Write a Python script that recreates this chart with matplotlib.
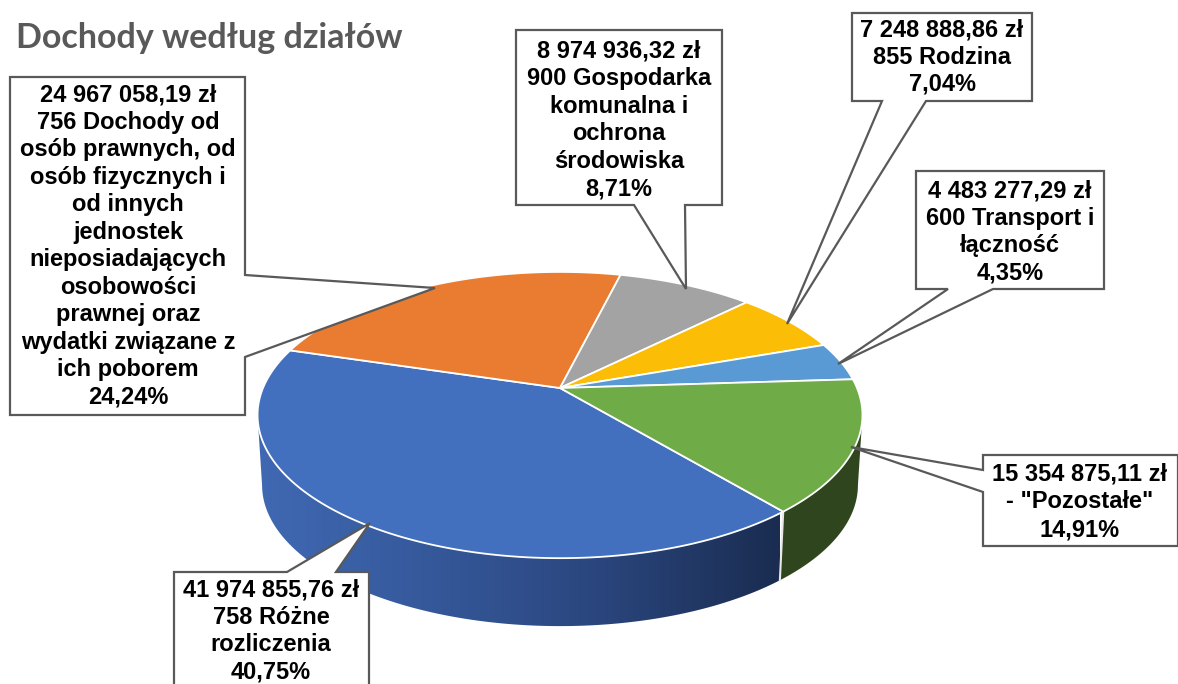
import numpy as np
import matplotlib
matplotlib.use('Agg')
import matplotlib.pyplot as plt
from matplotlib.patches import Polygon
from matplotlib.colors import LinearSegmentedColormap

# slices, clockwise from the blue/green edge
names = ['758 Różne\nrozliczenia',
         '756 Dochody od\nosób prawnych, od\nosób fizycznych i\nod innych\njednostek\nnieposiadających\nosobowości\nprawnej oraz\nwydatki związane z\nich poborem',
         '900 Gospodarka\nkomunalna i\nochrona\nśrodowiska',
         '855 Rodzina',
         '600 Transport i\nłączność',
         '- "Pozostałe"']
amounts = [41974855.76, 24967058.19, 8974936.32, 7248888.86, 4483277.29, 15354875.11]
amount_labels = ['41 974 855,76 zł', '24 967 058,19 zł', '8 974 936,32 zł',
                 '7 248 888,86 zł', '4 483 277,29 zł', '15 354 875,11 zł']
percent_labels = ['40,75%', '24,24%', '8,71%', '7,04%', '4,35%', '14,91%']
colors = ['#4270bf', '#ea7c31', '#a3a3a3', '#fbbd05', '#5a9ad4', '#6fab46']

# callout outlines in pixels, box corners with pointer in between
callouts = [
    [(174, 572), (287, 572), (370, 523), (336, 572), (369, 572), (369, 700), (174, 700)],
    [(10, 77), (245, 77), (245, 275), (435, 288), (245, 357), (245, 415), (10, 415)],
    [(516, 30), (722, 30), (722, 205), (685, 205), (686, 289), (634, 205), (516, 205)],
    [(852, 13), (1032, 13), (1032, 101), (926, 101), (787, 324), (882, 101), (852, 101)],
    [(916, 171), (1104, 171), (1104, 289), (993, 289), (838, 364), (948, 289), (916, 289)],
    [(983, 455), (1178, 455), (1178, 546), (983, 546), (983, 492), (851, 447), (983, 470)],
]
text_centers = [(271, 631), (128, 246), (619, 120), (942, 57), (1010, 232), (1080, 502)]

start_angle = 140.0
cx, cy = 560, 388
tilt = 0.189


def rim(theta, scale=1.0, drop=0):
    # circle seen in perspective, theta clockwise from north
    t = np.radians(theta)
    X, Y = np.sin(t), np.cos(t)
    w = 1 + tilt * Y
    return cx + scale * 297 * X / w, cy + drop - scale * 138 * Y / w


fig = plt.figure(figsize=(11.78, 6.84), dpi=100)
ax = fig.add_axes([0, 0, 1, 1])
ax.axis('off')

edges = start_angle + np.concatenate([[0], np.cumsum(amounts)]) / np.sum(amounts) * 360

# sides, only blue and green show, cut at the left and right extremes of the rim
side_cmap = LinearSegmentedColormap.from_list('side', ['#4069b3', '#35589a', '#2a457c', '#1a2c50'])
left_extreme, right_extreme = 259, 461
for th, fill in [(np.linspace(edges[0], left_extreme, 200), None),
                 (np.linspace(right_extreme, edges[6], 100), '#2f451e')]:
    x1, y1 = rim(th)
    x2, y2 = rim(th, 0.985, 70.5)
    pts = np.column_stack([np.r_[x1, x2[::-1]], np.r_[y1, y2[::-1]]])
    if fill is None:
        poly = Polygon(pts, closed=True, facecolor='none', edgecolor='none')
        ax.add_patch(poly)
        im = ax.imshow(np.linspace(0, 1, 256)[None, :], cmap=side_cmap, aspect='auto',
                       extent=(258, 780, 640, 350), zorder=1)
        im.set_clip_path(poly)
    else:
        ax.add_patch(Polygon(pts, closed=True, facecolor=fill, edgecolor='none', zorder=1))

# white line between the two sides
xa, ya = rim(edges[0])
xb, yb = rim(edges[0], 0.985, 70.5)
ax.plot([xa, xb], [ya, yb], color='#e8e8e8', lw=1.5, zorder=2)

# top faces
for i, c in enumerate(colors):
    th = np.linspace(edges[i], edges[i + 1], 200)
    x, y = rim(th)
    ax.add_patch(Polygon(np.column_stack([np.r_[cx, x], np.r_[cy, y]]), closed=True,
                         facecolor=c, edgecolor='white', lw=1.3, joinstyle='round', zorder=3))

# callouts
for i in range(len(names)):
    ax.add_patch(Polygon(callouts[i], closed=True, facecolor='white', edgecolor='#595959',
                         lw=1.6, zorder=4))
    ax.text(text_centers[i][0], text_centers[i][1],
            amount_labels[i] + '\n' + names[i] + '\n' + percent_labels[i],
            ha='center', va='center', family='Liberation Sans', weight='bold',
            fontsize=17, linespacing=1.25, color='black', zorder=5)

ax.text(16, 38, 'Dochody według działów', family='Lato', weight='bold', fontsize=24.5,
        color='#595959', ha='left', va='center', zorder=5)

ax.set_xlim(0, 1178)
ax.set_ylim(684, 0)
fig.savefig('out.png', dpi=100)
